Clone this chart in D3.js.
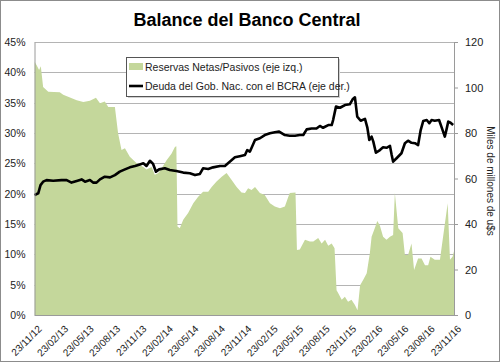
<!DOCTYPE html>
<html>
  <head>
    <style>
      body { margin: 0; background: #fff; }
      svg text { font-family: "Liberation Sans", Arial, sans-serif; fill: #222; }
      .axis path, .axis line { stroke: #9a9a9a; }
      .grid line { stroke: #b4b4b4; }
    </style>
  </head>
  <body>
    <svg id="chart" width="500" height="362"></svg>

    <script src="https://d3js.org/d3.v7.min.js"></script>
    <script type="text/javascript">
      const tickLabels = ["23/11/12","23/02/13","23/05/13","23/08/13","23/11/13","23/02/14","23/05/14","23/08/14",
        "23/11/14","23/02/15","23/05/15","23/08/15","23/11/15","23/02/16","23/05/16","23/08/16","23/11/16"];
      const leftTicks = [0, 0.05, 0.10, 0.15, 0.20, 0.25, 0.30, 0.35, 0.40, 0.45];
      const rightTicks = [0, 20, 40, 60, 80, 100, 120];

      // Reservas Netas / Pasivos (%)
      const reservasFechas = ["2012-11-23","2012-11-30","2012-12-09","2012-12-15","2012-12-23","2013-01-10","2013-02-19","2013-03-03",
        "2013-04-19","2013-05-12","2013-06-04","2013-06-25","2013-07-09","2013-07-26","2013-08-07","2013-08-30","2013-09-10","2013-09-22",
        "2013-10-04","2013-10-21","2013-11-14","2013-12-07","2013-12-18","2014-01-05","2014-01-16","2014-01-28","2014-02-09","2014-02-26",
        "2014-03-15","2014-03-27","2014-04-01","2014-04-05","2014-04-13","2014-04-25","2014-05-12","2014-05-30","2014-06-16","2014-07-03",
        "2014-07-21","2014-08-02","2014-08-19","2014-09-06","2014-09-23","2014-10-10","2014-10-28","2014-11-14","2014-11-26","2014-12-07",
        "2014-12-19","2014-12-31","2015-01-17","2015-02-03","2015-02-21","2015-03-10","2015-03-28","2015-04-14","2015-04-26","2015-05-01",
        "2015-05-21","2015-05-26","2015-06-05","2015-06-23","2015-07-10","2015-07-22","2015-08-08","2015-08-20","2015-09-01","2015-09-12",
        "2015-09-24","2015-10-04","2015-10-11","2015-10-17","2015-10-29","2015-11-09","2015-11-20","2015-12-02","2015-12-14","2015-12-23",
        "2016-01-01","2016-01-12","2016-01-24","2016-02-04","2016-02-10","2016-02-21","2016-03-01","2016-03-10","2016-03-21","2016-04-02",
        "2016-04-14","2016-04-25","2016-05-01","2016-05-13","2016-05-28","2016-06-05","2016-06-16","2016-06-28","2016-07-07","2016-07-21",
        "2016-08-02","2016-08-14","2016-08-25","2016-09-02","2016-09-17","2016-10-05","2016-10-16","2016-11-01","2016-11-09","2016-11-18",
        "2016-11-23"];
      const reservasValores = [41.8,41.2,40.4,41.0,37.6,36.8,36.7,36.3,
        35.4,35.1,35.3,35.8,34.9,35.2,34.3,34.3,30.0,27.2,
        27.5,26.1,25.0,24.4,24.0,24.4,23.1,23.4,24.2,25.5,
        26.6,27.7,27.8,14.6,14.3,15.7,16.8,18.4,19.5,20.3,
        20.3,21.1,22.0,22.8,23.4,22.3,21.1,20.2,20.1,20.9,
        20.6,21.1,20.1,19.8,18.4,17.9,17.6,17.9,19.5,20.1,
        20.2,10.7,10.8,12.4,12.1,12.1,12.7,11.8,12.4,11.4,
        11.8,11.0,4.1,3.6,2.5,3.0,2.2,2.5,1.65,0.8,
        4.9,5.8,6.9,10.2,12.9,14.3,15.5,14.7,12.9,12.4,
        12.9,13.2,20.1,14.3,13.5,9.9,9.9,11.8,7.4,9.3,
        9.3,8.2,8.2,9.6,9.1,9.1,12.9,18.4,9.1,9.6,
        10.5];

      // Deuda del Gob. Nac. con el BCRA (miles de millones de u$s)
      const deudaFechas = ["2012-11-23","2012-12-06","2012-12-14","2012-12-23","2013-01-04","2013-01-27","2013-02-25","2013-03-15",
        "2013-04-01","2013-04-19","2013-05-06","2013-05-18","2013-06-04","2013-06-15","2013-06-27","2013-07-09","2013-07-26","2013-08-13",
        "2013-08-30","2013-09-16","2013-10-04","2013-10-21","2013-11-08","2013-11-25","2013-12-07","2013-12-18","2013-12-30","2014-01-10",
        "2014-01-20","2014-01-31","2014-02-20","2014-03-09","2014-04-01","2014-04-25","2014-05-18","2014-06-05","2014-06-22","2014-07-03",
        "2014-07-21","2014-08-07","2014-08-31","2014-09-17","2014-10-04","2014-10-22","2014-11-08","2014-11-26","2014-12-04","2014-12-13",
        "2014-12-31","2015-01-17","2015-02-03","2015-02-21","2015-03-10","2015-03-25","2015-04-14","2015-05-01","2015-05-19","2015-06-05",
        "2015-06-17","2015-06-29","2015-07-16","2015-08-02","2015-08-14","2015-08-25","2015-09-12","2015-09-24","2015-09-29","2015-10-09",
        "2015-10-23","2015-11-09","2015-11-26","2015-12-06","2015-12-14","2015-12-22","2016-01-03","2016-01-18","2016-01-26","2016-02-02",
        "2016-02-10","2016-02-16","2016-02-25","2016-03-10","2016-03-21","2016-04-02","2016-04-14","2016-04-20","2016-04-25","2016-05-07",
        "2016-05-24","2016-06-05","2016-06-16","2016-06-28","2016-07-10","2016-07-21","2016-07-30","2016-08-08","2016-08-20","2016-08-29",
        "2016-09-06","2016-09-17","2016-10-02","2016-10-11","2016-10-22","2016-10-28","2016-11-03","2016-11-11","2016-11-20"];
      const deudaValores = [52.7,53.5,57.1,58.6,59.3,59.0,59.3,59.3,
        58.2,58.9,59.6,58.6,59.3,58.2,58.2,59.6,60.8,60.5,
        61.5,63.0,64.0,64.9,65.5,66.2,66.7,65.5,67.8,66.4,
        63.0,64.0,64.5,63.7,63.3,62.6,62.3,61.5,62.0,64.5,
        64.2,64.9,65.5,65.5,67.4,69.3,69.8,70.3,72.5,71.8,
        76.9,77.7,79.1,79.9,80.3,80.6,79.1,78.8,78.8,79.1,
        79.1,81.6,82.0,82.0,83.1,82.3,83.5,83.5,85.7,91.6,
        91.1,92.3,92.6,94.8,95.7,87.2,85.4,86.2,82.5,76.9,
        78.4,76.2,71.3,72.5,73.7,73.5,74.3,70.3,67.4,68.9,
        71.1,75.5,76.6,75.7,75.5,74.7,81.3,85.3,85.7,84.3,
        85.7,85.4,85.7,82.5,78.4,81.6,85.0,84.5,83.5];

      (function() {
        const svg = d3.select("#chart");
        const parse = d3.timeParse("%Y-%m-%d");
        const parseTick = d3.timeParse("%d/%m/%y");

        const left = 34.5, right = 454, top = 42, bottom = 315;

        const x = d3.scaleTime()
          .domain([parseTick(tickLabels[0]), parseTick(tickLabels[tickLabels.length - 1])])
          .range([left, right]);
        const yL = d3.scaleLinear().domain([0, 0.45]).range([bottom, top]);
        const yR = d3.scaleLinear().domain([0, 120]).range([bottom, top]);

        // chart border
        svg.append("rect")
          .attr("x", 0.5).attr("y", 0.5).attr("width", 499).attr("height", 361)
          .attr("fill", "#fff").attr("stroke", "#8c8c8c");

        // title
        svg.append("text")
          .attr("x", 247).attr("y", 26)
          .attr("text-anchor", "middle")
          .style("font-size", "18px").style("font-weight", "bold")
          .style("fill", "#000")
          .text("Balance del Banco Central");

        // gridlines
        svg.append("g").attr("class", "grid")
          .selectAll("line").data(leftTicks).enter().append("line")
          .attr("x1", left).attr("x2", right)
          .attr("y1", function(d) { return Math.round(yL(d)) + 0.5; })
          .attr("y2", function(d) { return Math.round(yL(d)) + 0.5; });

        const reservas = reservasFechas.map(function(d, i) { return { date: parse(d), v: reservasValores[i] / 100 }; });
        const deuda = deudaFechas.map(function(d, i) { return { date: parse(d), v: deudaValores[i] }; });

        svg.append("defs").append("clipPath").attr("id", "clip")
          .append("rect").attr("x", left).attr("y", top - 5).attr("width", right - left).attr("height", bottom - top + 5);

        const area = d3.area()
          .x(function(d) { return x(d.date); })
          .y0(bottom)
          .y1(function(d) { return yL(d.v); });

        svg.append("path")
          .datum(reservas)
          .attr("clip-path", "url(#clip)")
          .attr("fill", "#c4d79b")
          .attr("d", area);

        const line = d3.line()
          .x(function(d) { return x(d.date); })
          .y(function(d) { return yR(d.v); });

        svg.append("path")
          .datum(deuda)
          .attr("fill", "none")
          .attr("stroke", "#000")
          .attr("stroke-width", 2.6)
          .attr("stroke-linejoin", "round")
          .attr("d", line);

        // left axis
        svg.append("g").attr("class", "axis")
          .attr("transform", "translate(" + left + ",0)")
          .call(d3.axisLeft(yL).tickValues(leftTicks).tickFormat(d3.format(".0%")).tickSize(0).tickPadding(9))
          .call(function(g) { g.selectAll("text").style("font-size", "10.5px"); });

        // right axis
        svg.append("g").attr("class", "axis")
          .attr("transform", "translate(" + right + ",0)")
          .call(d3.axisRight(yR).tickValues(rightTicks).tickSizeOuter(0).tickSize(4).tickPadding(7))
          .call(function(g) { g.selectAll("text").style("font-size", "11px"); });

        // bottom axis
        const xAxis = svg.append("g").attr("class", "axis")
          .attr("transform", "translate(0," + bottom + ")")
          .call(d3.axisBottom(x).tickValues(tickLabels.map(parseTick)).tickFormat(d3.timeFormat("%d/%m/%y")).tickSize(0).tickSizeOuter(0));
        xAxis.selectAll("text")
          .style("font-size", "10px")
          .attr("text-anchor", "end")
          .attr("transform", "translate(5,12) rotate(-45)")
          .attr("dy", "0.35em")
          .attr("y", 0).attr("x", 0);

        // right axis title
        svg.append("text")
          .attr("transform", "translate(487," + 181 + ") rotate(90)")
          .attr("text-anchor", "middle")
          .style("font-size", "10px")
          .text("Miles de millones de u$s");

        // legend
        const lg = svg.append("g").attr("transform", "translate(126,57)");
        lg.append("rect").attr("x", 2).attr("y", 2).attr("width", 212).attr("height", 39).attr("fill", "#d0d0d0");
        lg.append("rect").attr("x", 0.5).attr("y", 0.5).attr("width", 212).attr("height", 39)
          .attr("fill", "#fff").attr("stroke", "#555");
        lg.append("rect").attr("x", 3).attr("y", 6).attr("width", 14).attr("height", 7).attr("fill", "#c4d79b");
        lg.append("text").attr("x", 19).attr("y", 13.5).style("font-size", "10.5px")
          .text("Reservas Netas/Pasivos (eje izq.)");
        lg.append("line").attr("x1", 3).attr("x2", 17).attr("y1", 29).attr("y2", 29)
          .attr("stroke", "#000").attr("stroke-width", 2.6);
        lg.append("text").attr("x", 19).attr("y", 32.5).style("font-size", "10.5px")
          .text("Deuda del Gob. Nac. con el BCRA (eje der.)");
      })()
    </script>
  </body>
</html>
